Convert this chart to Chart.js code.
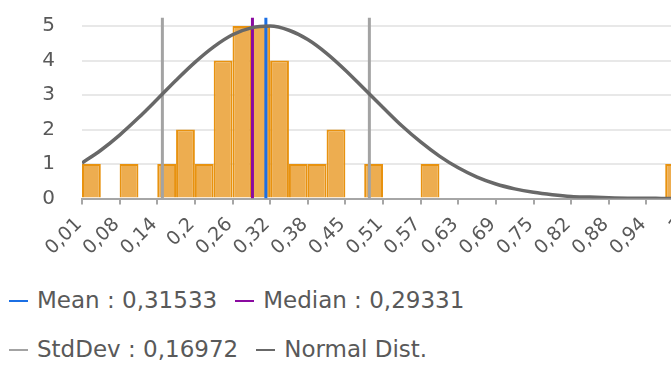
<!DOCTYPE html>
<html><head><meta charset="utf-8">
<script src="https://cdn.jsdelivr.net/npm/chart.js@4/dist/chart.umd.min.js"></script>
<style>
html,body{margin:0;padding:0;background:#fff;overflow:hidden;width:671px;height:365px;}
#wrap{position:relative;width:671px;height:365px;overflow:hidden;}
#c{position:absolute;left:0;top:0;}
#legend{position:absolute;left:9px;top:276px;width:662px;display:flex;flex-wrap:wrap;font-family:'DejaVu Sans',Verdana,sans-serif;font-size:23px;color:#595959;line-height:49px;}
.item{display:flex;align-items:center;margin-right:18px;white-space:nowrap;}
.mark{display:inline-block;width:19px;height:2px;margin-right:9px;}
</style></head><body>
<div id="wrap"><canvas id="c" width="700" height="270"></canvas><div id="legend"></div></div>
<script>
// ---- data ----
const binStart = 0.0138;
const binWidth = 0.03085;
const counts = [1,0,1,0,1,2,1,4,5,5,4,1,1,2,0,1,0,0,1,0,0,0,0,0,0,0,0,0,0,0,0,1];
const normalCurve = [1.03,1.40,1.84,2.34,2.88,3.43,3.95,4.40,4.75,4.95,5.00,4.88,4.61,4.21,3.72,3.18,2.64,2.11,1.64,1.23,0.89,0.62,0.42,0.28,0.18,0.11,0.06,0.04,0.02,0.01,0.01,0,0];
const tickLabels = ['0,01','0,08','0,14','0,2','0,26','0,32','0,38','0,45','0,51','0,57','0,63','0,69','0,75','0,82','0,88','0,94','1'];
const yTicks = [0,1,2,3,4,5];
const mean = 0.31533;
const median = 0.29331;
const stdDev = 0.16972;

// ---- build library tables ----
const FONT = "'DejaVu Sans', Verdana, sans-serif";
const TEXT = '#595959';
const xMin = binStart;
const xMax = binStart + counts.length * binWidth;
const yMax = 5.25;
const fmt = v => v.toFixed(5).replace('.', ',');
const barData = counts.map((c, i) => ({x: binStart + (i + 0.5) * binWidth, y: c}));
const curveData = normalCurve.map((v, i) => ({x: binStart + i * binWidth, y: v}));
const vline = x => [{x: x, y: 0}, {x: x, y: yMax}];

const htmlLegend = {
  id: 'htmlLegend',
  afterUpdate(chart) {
    const box = document.getElementById('legend');
    box.innerHTML = '';
    chart.data.datasets.forEach(ds => {
      if (ds.type !== 'line') return;
      const it = document.createElement('div'); it.className = 'item';
      const mk = document.createElement('span'); mk.className = 'mark'; mk.style.background = ds.borderColor;
      const tx = document.createElement('span'); tx.textContent = ds.label;
      it.appendChild(mk); it.appendChild(tx); box.appendChild(it);
    });
  }
};

new Chart(document.getElementById('c'), {
  type: 'bar',
  data: {
    datasets: [
      {type: 'line', label: 'Mean : ' + fmt(mean), data: vline(mean), borderColor: '#1b6fe4', borderWidth: 3, pointRadius: 0, order: 1},
      {type: 'line', label: 'Median : ' + fmt(median), data: vline(median), borderColor: '#8a0aa0', borderWidth: 3, pointRadius: 0, order: 2},
      {type: 'line', label: 'StdDev : ' + fmt(stdDev), data: [...vline(mean - stdDev), {x: mean, y: null}, ...vline(mean + stdDev)], borderColor: '#a3a3a3', borderWidth: 3, pointRadius: 0, spanGaps: false, order: 3},
      {type: 'line', label: 'Normal Dist.', data: curveData, borderColor: '#686868', borderWidth: 3.5, pointRadius: 0, cubicInterpolationMode: 'monotone', order: 0},
      {type: 'bar', label: 'Count', data: barData, backgroundColor: '#EDAD50', borderColor: '#E8920F',
       borderWidth: c => (c.raw && c.raw.y ? 2 : 0), inflateAmount: 0, barPercentage: 1, categoryPercentage: 1, order: 4}
    ]
  },
  options: {
    responsive: false,
    animation: false,
    layout: {padding: {top: 17.5, right: 16, left: 0, bottom: 0}},
    plugins: {legend: {display: false}, tooltip: {enabled: false}},
    scales: {
      x: {
        type: 'linear', min: xMin, max: xMax, offset: false,
        afterBuildTicks: s => { s.ticks = tickLabels.map((l, i) => ({value: binStart + i * 2 * binWidth})); },
        ticks: {autoSkip: false, minRotation: 45, maxRotation: 45, padding: 9, labelOffset: -3, color: TEXT,
                font: {size: 19, family: FONT}, callback: (v, i) => tickLabels[i]},
        grid: {drawOnChartArea: false, tickLength: 6, color: '#a6a6a6', lineWidth: 2, offset: false},
        border: {display: true, color: '#a6a6a6', width: 2},
        afterFit: s => { s.height = 71.5; s.paddingLeft = 0; s.paddingRight = 0; }
      },
      y: {
        min: 0, max: yMax,
        afterBuildTicks: s => { s.ticks = yTicks.map(v => ({value: v})); },
        ticks: {padding: 27, color: TEXT, font: {size: 20, family: FONT}},
        grid: {drawTicks: false, lineWidth: 2, color: c => (c.tick && c.tick.value === 0 ? 'rgba(0,0,0,0)' : '#e8e8e8')},
        border: {display: false},
        afterFit: s => { s.width = 82; s.paddingTop = 0; s.paddingBottom = 0; }
      }
    }
  },
  plugins: [htmlLegend]
});
</script></body></html>
